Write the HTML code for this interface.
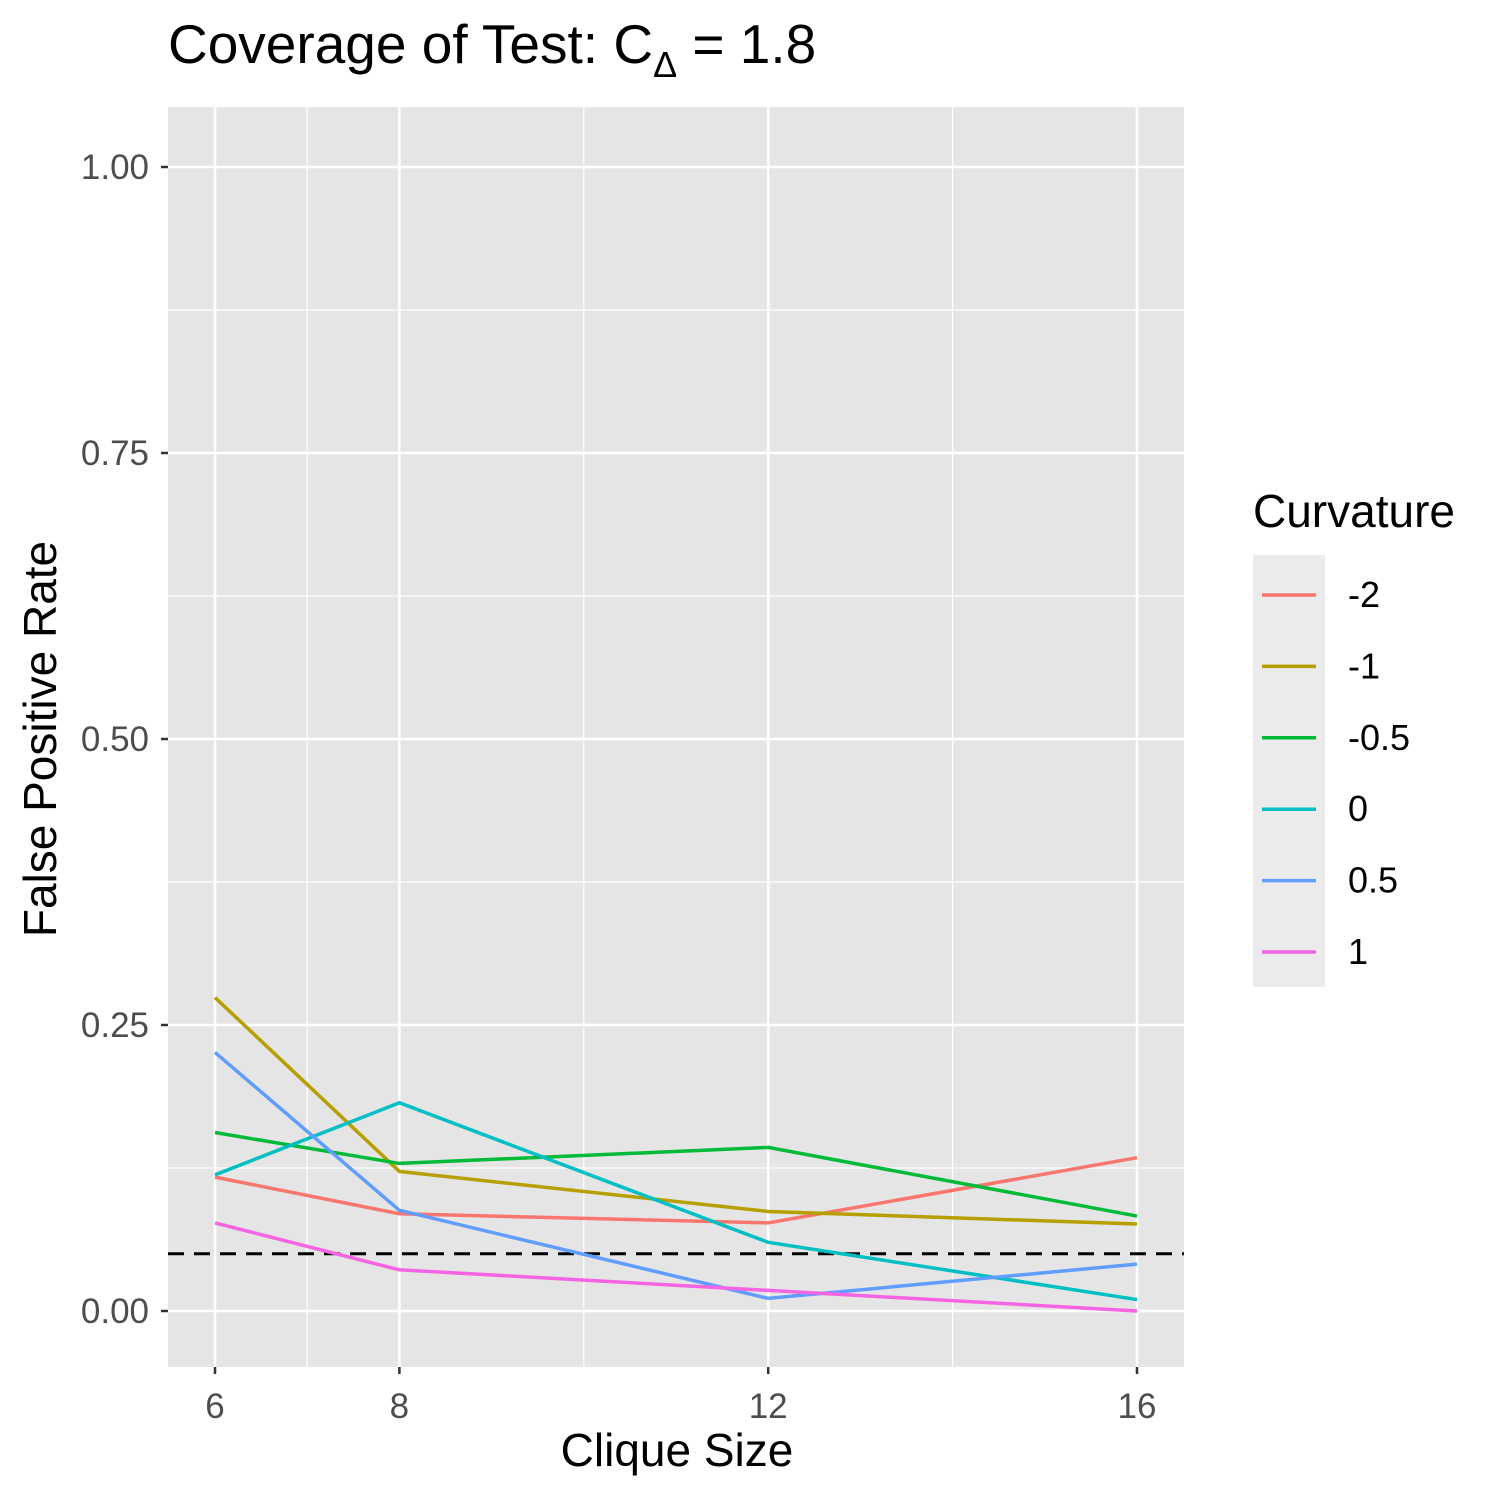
<!DOCTYPE html>
<html><head><meta charset="utf-8"><style>
body{margin:0;background:#fff;}
svg text{font-family:"Liberation Sans",Arial,sans-serif;}
</style></head><body>
<svg id="chart" width="1500" height="1500" xmlns="http://www.w3.org/2000/svg">
<rect width="1500" height="1500" fill="#fff"/>
<text x="168" y="63" font-size="55" fill="#000">Coverage of Test: C<tspan font-size="36" dy="14">Δ</tspan><tspan dy="-14"> = 1.8</tspan></text>
<rect x="168" y="107" width="1016" height="1260" fill="#e5e5e5"/>
<g id="grid"></g>
<g id="lines"></g>
<g id="axes"></g>
<text x="677" y="1466" font-size="46" text-anchor="middle" fill="#000">Clique Size</text>
<text transform="translate(56,739) rotate(-90)" font-size="46" text-anchor="middle" fill="#000">False Positive Rate</text>
<text x="1253" y="527" font-size="46" fill="#000">Curvature</text>
<rect x="1253" y="555" width="72" height="432" fill="#ebebeb"/>
<g id="legend"></g>
</svg>
<script>
const cliqueSizes=[6,8,12,16];
const curvatures=["-2","-1","-0.5","0","0.5","1"];
const colors=["#F8766D","#B79F00","#00BA38","#00BFC4","#619CFF","#F564E3"];
const rMinus2=[0.117,0.085,0.077,0.134];
const rMinus1=[0.274,0.122,0.087,0.076];
const rMinus05=[0.156,0.129,0.143,0.083];
const rZero=[0.119,0.182,0.060,0.010];
const rPlus05=[0.226,0.088,0.011,0.041];
const rPlus1=[0.077,0.036,0.018,0.000];
const series=[rMinus2,rMinus1,rMinus05,rZero,rPlus05,rPlus1];
const yTicks=[0,0.25,0.5,0.75,1];
const yTickLabels=["0.00","0.25","0.50","0.75","1.00"];
const xTicks=[6,8,12,16];
const xMinor=[7,10,14];
const yMinor=[0.125,0.375,0.625,0.875];
const refLine=0.05;

const NS="http://www.w3.org/2000/svg";
const xs=v=>215+(v-6)*(1137-215)/10;
const ys=v=>1311-v*1144;
function mk(tag,attrs,parent){const e=document.createElementNS(NS,tag);for(const k in attrs)e.setAttribute(k,attrs[k]);parent.appendChild(e);return e;}
const grid=document.getElementById('grid'),lines=document.getElementById('lines'),axes=document.getElementById('axes'),legend=document.getElementById('legend');
xMinor.forEach(v=>{const l=mk('line',{x1:xs(v),x2:xs(v),y1:107,y2:1367,stroke:'#fff','stroke-width':1.2},grid);

});
yMinor.forEach(v=>{const l=mk('line',{x1:168,x2:1184,y1:ys(v),y2:ys(v),stroke:'#fff','stroke-width':1.2},grid);

});
xTicks.forEach(v=>{const l=mk('line',{x1:xs(v),x2:xs(v),y1:107,y2:1367,stroke:'#fff','stroke-width':2.5},grid);


const t=mk('line',{x1:xs(v),x2:xs(v),y1:1367,y2:1374,stroke:'#333','stroke-width':2.5},axes);


const tx=mk('text',{x:xs(v),y:1418,'font-size':35,fill:'#4d4d4d','text-anchor':'middle'},axes);tx.textContent=v;

});
yTicks.forEach((v,i)=>{const l=mk('line',{x1:168,x2:1184,y1:ys(v),y2:ys(v),stroke:'#fff','stroke-width':2.5},grid);


const t=mk('line',{x1:161,x2:168,y1:ys(v),y2:ys(v),stroke:'#333','stroke-width':2.5},axes);


const tx=mk('text',{x:149,y:ys(v)+12,'font-size':35,fill:'#4d4d4d','text-anchor':'end'},axes);tx.textContent=yTickLabels[i];

});
const ref=mk('line',{x1:168,x2:1184,y1:ys(refLine),y2:ys(refLine),stroke:'#000','stroke-width':3,'stroke-dasharray':'16,10'},lines);


series.forEach((s,i)=>{const p=mk('polyline',{points:s.map((v,j)=>xs(cliqueSizes[j])+','+ys(v)).join(' '),fill:'none',stroke:colors[i],'stroke-width':3.5},lines);


const y=595+i*71.4;
const k=mk('line',{x1:1262,x2:1316,y1:y,y2:y,stroke:colors[i],'stroke-width':3.5},legend);


const t=mk('text',{x:1348,y:y+12,'font-size':36,fill:'#000'},legend);t.textContent=curvatures[i];

});
</script>
</body></html>
